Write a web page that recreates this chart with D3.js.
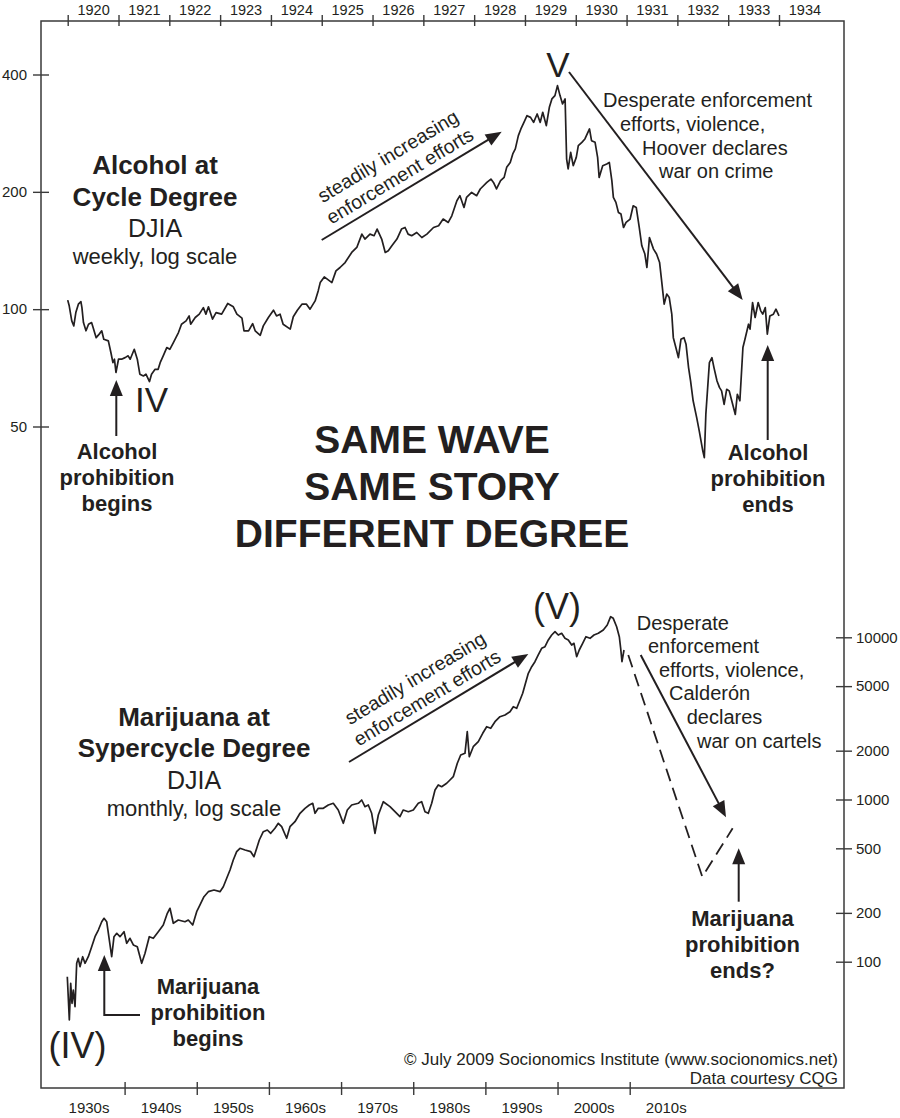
<!DOCTYPE html>
<html><head><meta charset="utf-8">
<script src="https://cdn.jsdelivr.net/npm/d3@7"></script>
<style>
html,body{margin:0;padding:0;background:#fff;}
svg{display:block;font-family:"Liberation Sans",Arial,Helvetica,sans-serif;}
</style></head><body>
<svg id="chart" width="900" height="1118"></svg>
<script>
// ---------- DATA ----------
// Top panel: DJIA weekly 1920-1933 (decimal year, index value)
const alcoholWeekly = [
[1920.00,105.5],[1920.03,102],[1920.08,93.3],[1920.12,90.6],[1920.16,98],[1920.21,103],[1920.26,104.6],[1920.28,100.9],
[1920.31,92.4],[1920.36,88],[1920.41,91.5],[1920.47,92.4],[1920.50,89.7],[1920.56,84.5],[1920.62,86.3],[1920.67,88],
[1920.71,83.7],[1920.80,82.9],[1920.85,77.4],[1920.89,72.9],[1920.92,74.4],[1920.95,68.8],[1921.00,74.4],[1921.06,74.4],
[1921.13,75.1],[1921.19,75.9],[1921.23,74.4],[1921.31,78.9],[1921.37,74.4],[1921.42,68.1],[1921.49,67.4],[1921.54,68.1],
[1921.61,65.2],[1921.65,68.1],[1921.72,70.1],[1921.78,70.1],[1921.82,72.9],[1921.88,75.9],[1921.95,79.7],[1922.01,78.9],
[1922.08,82.1],[1922.18,87.1],[1922.24,91.5],[1922.33,93.3],[1922.39,96.1],[1922.42,91.5],[1922.51,95.2],[1922.59,97.1],
[1922.67,100.9],[1922.72,97.1],[1922.77,101.4],[1922.85,94.3],[1922.92,98],[1923.03,97.1],[1923.15,103.4],[1923.26,101.4],
[1923.33,97.1],[1923.43,94.8],[1923.47,88],[1923.56,88],[1923.64,91.8],[1923.69,88],[1923.79,85.7],[1923.85,90.6],
[1923.95,95.2],[1924.05,99.4],[1924.11,96.1],[1924.18,97.1],[1924.24,91.5],[1924.38,88.9],[1924.44,95.6],[1924.52,99.4],
[1924.61,103],[1924.70,103],[1924.77,100],[1924.87,105],[1924.93,111.4],[1924.97,117],[1925.05,121],[1925.20,117],
[1925.28,125.4],[1925.36,127.9],[1925.46,131.7],[1925.59,139.8],[1925.69,144],[1925.79,155.8],[1925.85,151.3],[1925.95,155.8],
[1926.03,154.3],[1926.09,160.5],[1926.18,151.3],[1926.25,139.8],[1926.31,141.2],[1926.38,145.4],[1926.48,151.3],[1926.57,160.5],
[1926.64,162],[1926.70,155.8],[1926.77,154.3],[1926.87,157.3],[1926.97,152.7],[1927.07,155.8],[1927.20,162],[1927.30,163.7],
[1927.39,170.3],[1927.49,166.9],[1927.56,173.6],[1927.66,189.7],[1927.72,195.5],[1927.80,182.4],[1927.85,193.5],[1927.95,199.3],
[1928.05,195.5],[1928.12,203.4],[1928.25,211.4],[1928.33,215.7],[1928.38,211.4],[1928.44,203.4],[1928.52,213.6],[1928.59,217.8],
[1928.64,231.1],[1928.71,238],[1928.76,250.1],[1928.81,257.7],[1928.87,278.7],[1928.92,290],[1928.98,301.5],[1929.04,313.7],
[1929.11,310.5],[1929.17,301.5],[1929.24,316.8],[1929.30,301.5],[1929.35,319.9],[1929.42,295.7],[1929.48,329.5],[1929.53,346.3],
[1929.59,353.1],[1929.64,374.6],[1929.69,353.1],[1929.74,336.1],[1929.79,346.3],[1929.82,242.8],[1929.85,228.9],[1929.90,252.5],
[1929.95,233.4],[1930.01,245.2],[1930.05,262.7],[1930.12,267.9],[1930.18,273.3],[1930.27,290],[1930.31,270.6],[1930.38,267.9],
[1930.43,245.2],[1930.46,217.8],[1930.53,233.4],[1930.61,235.7],[1930.66,238],[1930.71,213.6],[1930.74,193.5],[1930.79,187.9],
[1930.84,177.1],[1930.89,175.4],[1930.94,162],[1930.99,166.9],[1931.07,170.3],[1931.13,184.2],[1931.19,182.4],[1931.25,162],
[1931.30,145.4],[1931.36,138.5],[1931.40,127.9],[1931.45,152.7],[1931.53,142.6],[1931.59,138.5],[1931.65,131.7],[1931.69,118.2],
[1931.74,103],[1931.79,109.3],[1931.84,107.1],[1931.89,97.1],[1931.92,84.5],[1931.97,79.7],[1932.02,75.1],[1932.07,83.7],
[1932.13,84.5],[1932.17,81.3],[1932.22,70.8],[1932.26,65.4],[1932.31,58.2],[1932.38,52.7],[1932.43,48.7],[1932.50,43.3],
[1932.53,41.6],[1932.56,53.7],[1932.63,72.9],[1932.68,75.1],[1932.72,70.8],[1932.78,65.4],[1932.83,62.9],[1932.87,61.7],
[1932.92,57],[1932.97,62.3],[1933.02,61.7],[1933.07,58.2],[1933.14,53.7],[1933.18,60.5],[1933.23,58.2],[1933.29,79.7],
[1933.33,83.7],[1933.40,91.5],[1933.43,88.9],[1933.48,104],[1933.53,95.2],[1933.59,104],[1933.64,99],[1933.68,97.1],
[1933.73,100.9],[1933.77,86.3],[1933.82,96.1],[1933.89,97.1],[1933.94,100],[1934.00,96.1]
];
// Bottom panel: DJIA monthly 1932-2009 (decimal year, index value)
const marijuanaMonthly = [
[1932.06,80.8],[1932.34,43.7],[1932.53,73.6],[1932.71,55.4],[1932.89,66.9],[1933.13,52.8],[1933.36,97.8],[1933.58,104.9],
[1933.82,93.2],[1934.19,107.3],[1934.51,97.8],[1934.97,107.3],[1935.44,123.7],[1935.90,142.6],[1936.36,156.8],[1936.83,176.4],
[1937.15,185.2],[1937.52,176.4],[1937.88,136.1],[1938.21,107.3],[1938.53,142.6],[1938.91,149.7],[1939.36,142.6],[1939.92,153.1],
[1940.29,129.9],[1940.75,139.4],[1941.21,126.8],[1941.76,123.7],[1942.37,97.8],[1942.83,112.7],[1943.42,142.6],[1943.98,139.4],
[1944.67,153.1],[1945.36,168.4],[1945.92,198.8],[1946.29,213.5],[1946.75,172.5],[1947.44,180.7],[1948.37,176.4],[1948.83,180.7],
[1949.44,168.4],[1949.99,203.4],[1950.45,223.7],[1951.00,251.6],[1951.60,270.2],[1952.39,276.7],[1953.22,270.2],[1953.68,290],
[1954.15,326.7],[1954.61,367.6],[1955.06,423.6],[1955.53,476.8],[1955.99,500.3],[1956.69,488.4],[1957.48,476.8],[1957.93,444.1],
[1958.31,500.3],[1958.67,562.7],[1959.22,633.3],[1959.78,648.6],[1960.25,618.9],[1960.84,664.4],[1961.30,713.5],[1961.77,679.8],
[1962.46,576.7],[1962.92,679.8],[1963.61,729.8],[1964.31,822.3],[1965.00,882.5],[1965.60,925.1],[1966.07,947.7],[1966.39,822.3],
[1966.84,882.5],[1967.54,882.5],[1968.23,925.1],[1968.92,947.7],[1969.61,861.6],[1970.31,713.5],[1970.86,861.6],[1971.47,925.1],
[1972.39,947.7],[1972.86,992.9],[1973.31,903],[1973.77,925.1],[1974.24,822.3],[1974.70,618.9],[1975.16,802.6],[1975.85,969.2],
[1976.78,903],[1977.47,841],[1978.16,783.4],[1978.62,861.6],[1979.32,841],[1980.01,861.6],[1980.70,947.7],[1981.17,969.2],
[1981.63,841],[1982.09,822.3],[1982.56,947.7],[1983.02,1144],[1983.47,1229],[1983.94,1199],[1984.64,1259],[1985.09,1319],
[1985.55,1382],[1986.11,1672],[1986.58,1881],[1987.17,1927],[1987.49,2618],[1987.77,1836],[1988.32,2116],[1989.02,2272],
[1989.63,2559],[1990.18,2811],[1990.74,2748],[1991.33,3018],[1992.02,3240],[1992.72,3319],[1993.41,3478],[1993.87,3734],
[1994.34,3650],[1994.80,4106],[1995.17,4516],[1995.49,5081],[1995.95,5999],[1996.42,6588],[1996.87,7072],[1997.33,7780],
[1997.80,8555],[1998.26,8750],[1998.72,9625],[1999.19,10330],[1999.65,10830],[2000.10,10330],[2000.57,10580],[2001.03,9860],
[2001.49,9625],[2001.96,8960],[2002.28,9183],[2002.65,7593],[2003.01,8350],[2003.48,9183],[2003.94,10090],[2004.50,9860],
[2005.05,10330],[2005.65,10580],[2006.34,11090],[2006.89,11910],[2007.36,13400],[2007.72,13090],[2008.19,11620],[2008.56,10090],
[2008.75,8555],[2008.93,7072],[2009.21,8350]
];
// Dashed projection in bottom panel
const projection = [[2009.80,7780],[2020.06,334],[2024.27,664]];

// Axis tick values / labels
const topYearTicks = [1920,1921,1922,1923,1924,1925,1926,1927,1928,1929,1930,1931,1932,1933,1934];
const topYearLabels = ["1920","1921","1922","1923","1924","1925","1926","1927","1928","1929","1930","1931","1932","1933","1934"];
const decadeTicks = [1940,1950,1960,1970,1980,1990,2000,2010];
const decadeLabels = ["1930s","1940s","1950s","1960s","1970s","1980s","1990s","2000s","2010s"];
const decadeStarts = [1930,1940,1950,1960,1970,1980,1990,2000,2010];
const leftTicks = [50,100,200,400];
const rightTicks = [100,200,500,1000,2000,5000,10000];

// ---------- LAYOUT ----------
const INK = "#231f20";
const svg = d3.select("#chart");
const frame = {l:41, r:844, t:21, b:1088};

const xTop = d3.scaleLinear().domain([1920,1934]).range([67.7,779]);
const yTop = d3.scaleLog().domain([50,400]).range([426.5,74.5]);
const xBot = d3.scaleLinear().domain([1940,2010]).range([124.6,629.7]);
const yBot = d3.scaleLog().domain([100,10000]).range([961.7,637.3]);

// frame
svg.append("rect").attr("x",frame.l).attr("y",frame.t)
  .attr("width",frame.r-frame.l).attr("height",frame.b-frame.t)
  .attr("fill","none").attr("stroke","#3a3a3a").attr("stroke-width",1.5);

function styleAxis(g, size){
  g.select(".domain").remove();
  g.selectAll("line").attr("stroke","#3a3a3a").attr("stroke-width",1.4);
  g.selectAll("text").attr("fill",INK).attr("font-size",size||15)
    .attr("font-family",'"Liberation Sans",Arial,sans-serif');
}

// top axis ticks (crossing line)
const gTopTicks = svg.append("g").attr("transform",`translate(0,${frame.t})`)
  .call(d3.axisTop(xTop).tickValues(topYearTicks).tickSize(6).tickFormat(""));
gTopTicks.selectAll(".tick line").attr("y1",5).attr("y2",-6);
styleAxis(gTopTicks);
// top axis labels centered in each year
const gTopLab = svg.append("g").attr("transform",`translate(0,${frame.t})`)
  .call(d3.axisTop(xTop).tickValues(topYearTicks.map(v=>v+0.5)).tickSize(0).tickPadding(6.5)
    .tickFormat((d,i)=>topYearLabels[i]));
styleAxis(gTopLab, 14.5);

// bottom axis ticks
const gBotTicks = svg.append("g").attr("transform",`translate(0,${frame.b})`)
  .call(d3.axisBottom(xBot).tickValues(decadeTicks).tickSize(7).tickFormat(""));
gBotTicks.selectAll(".tick line").attr("y1",-6).attr("y2",7);
styleAxis(gBotTicks);
const gBotLab = svg.append("g").attr("transform",`translate(0,${frame.b})`)
  .call(d3.axisBottom(xBot).tickValues(decadeStarts.map(v=>v+5)).tickSize(0).tickPadding(14)
    .tickFormat((d,i)=>decadeLabels[i]));
styleAxis(gBotLab);

// left axis (top panel)
const gLeft = svg.append("g").attr("transform",`translate(${frame.l},0)`)
  .call(d3.axisLeft(yTop).tickValues(leftTicks).tickSize(8).tickPadding(6).tickFormat(d3.format("d")));
gLeft.selectAll(".tick line").attr("x1",8).attr("x2",-8);
styleAxis(gLeft);

// right axis (bottom panel)
const gRight = svg.append("g").attr("transform",`translate(${frame.r},0)`)
  .call(d3.axisRight(yBot).tickValues(rightTicks).tickSize(8).tickPadding(4).tickFormat(d3.format("d")));
gRight.selectAll(".tick line").attr("x1",-8).attr("x2",8);
styleAxis(gRight);

// data lines
const lineTop = d3.line().x(d=>xTop(d[0])).y(d=>yTop(d[1]));
const lineBot = d3.line().x(d=>xBot(d[0])).y(d=>yBot(d[1]));
svg.append("path").datum(alcoholWeekly).attr("d",lineTop)
  .attr("fill","none").attr("stroke",INK).attr("stroke-width",1.7).attr("stroke-linejoin","round");
svg.append("path").datum(marijuanaMonthly).attr("d",lineBot)
  .attr("fill","none").attr("stroke",INK).attr("stroke-width",1.7).attr("stroke-linejoin","round");
svg.append("path").datum(projection).attr("d",lineBot)
  .attr("fill","none").attr("stroke",INK).attr("stroke-width",1.8).attr("stroke-dasharray","13,7");

// ---------- ANNOTATIONS ----------
function txt(x,y,s,size,opts={}){
  const t = svg.append("text").attr("x",x).attr("y",y).text(s)
    .attr("font-size",size).attr("fill",INK)
    .attr("text-anchor",opts.anchor||"start")
    .attr("font-weight",opts.bold?"bold":"normal");
  return t;
}
function arrow(x1,y1,x2,y2){
  const L=16, W=6.5;
  const dx=x2-x1, dy=y2-y1, len=Math.hypot(dx,dy), ux=dx/len, uy=dy/len;
  const bx=x2-ux*L, by=y2-uy*L;
  svg.append("line").attr("x1",x1).attr("y1",y1).attr("x2",bx+ux*2).attr("y2",by+uy*2)
    .attr("stroke",INK).attr("stroke-width",2);
  svg.append("path").attr("d",`M${x2},${y2}L${bx-uy*W},${by+ux*W}L${bx+uy*W},${by-ux*W}Z`).attr("fill",INK);
}

// top panel titles
txt(155,174,"Alcohol at",26,{anchor:"middle",bold:true});
txt(155,206,"Cycle Degree",26,{anchor:"middle",bold:true});
txt(155,237,"DJIA",25,{anchor:"middle"});
txt(155,264,"weekly, log scale",22,{anchor:"middle"});

txt(558,77,"V",35,{anchor:"middle"});
txt(135,412,"IV",35);

arrow(116.3,436,116.3,380);
txt(117,459,"Alcohol",22,{anchor:"middle",bold:true});
txt(117,485,"prohibition",22,{anchor:"middle",bold:true});
txt(117,511,"begins",22,{anchor:"middle",bold:true});

arrow(767.7,440,767.7,345);
txt(768,460,"Alcohol",22,{anchor:"middle",bold:true});
txt(768,486,"prohibition",22,{anchor:"middle",bold:true});
txt(768,512,"ends",22,{anchor:"middle",bold:true});

// rotated "steadily increasing" arrows
function rotatedNote(x0,y0,x1,y1){
  arrow(x0,y0,x1,y1);
  const ang = Math.atan2(y1-y0,x1-x0)*180/Math.PI;
  const g = svg.append("g").attr("transform",`translate(${x0},${y0}) rotate(${ang})`);
  g.append("text").attr("x",100).attr("y",-31).attr("text-anchor","middle").attr("font-size",19.5).attr("fill",INK).text("steadily increasing");
  g.append("text").attr("x",100).attr("y",-8).attr("text-anchor","middle").attr("font-size",19.5).attr("fill",INK).text("enforcement efforts");
}
rotatedNote(321.7,240,501.7,131.7);
rotatedNote(349,762,528.3,654);

arrow(569,72,742.7,300);
txt(603,107,"Desperate enforcement",20);
txt(620,130.5,"efforts, violence,",20);
txt(642,154.5,"Hoover declares",20);
txt(659,178,"war on crime",20);

// center headline
txt(432,453,"SAME WAVE",39,{anchor:"middle",bold:true});
txt(432,500,"SAME STORY",39,{anchor:"middle",bold:true});
txt(432,547,"DIFFERENT DEGREE",39,{anchor:"middle",bold:true});

// bottom panel titles
txt(194,726,"Marijuana at",26,{anchor:"middle",bold:true});
txt(194,757,"Sypercycle Degree",26,{anchor:"middle",bold:true});
txt(194,789,"DJIA",25,{anchor:"middle"});
txt(194,816,"monthly, log scale",22,{anchor:"middle"});

txt(557,619,"(V)",36,{anchor:"middle"});
txt(77.5,1058,"(IV)",36,{anchor:"middle"});

// elbow arrow: Marijuana prohibition begins
svg.append("path").attr("d","M140,1015L104.3,1015L104.3,968").attr("fill","none").attr("stroke",INK).attr("stroke-width",2);
svg.append("path").attr("d","M104.3,955L97.8,971L110.8,971Z").attr("fill",INK);
txt(208,994,"Marijuana",22,{anchor:"middle",bold:true});
txt(208,1020,"prohibition",22,{anchor:"middle",bold:true});
txt(208,1046,"begins",22,{anchor:"middle",bold:true});

arrow(640.7,655,726,817.3);
txt(636.7,630,"Desperate",20);
txt(648,653,"enforcement",20);
txt(659,677,"efforts, violence,",20);
txt(669,700,"Calderón",20);
txt(686.7,724,"declares",20);
txt(697,748,"war on cartels",20);

arrow(738.7,901.7,738.7,848.3);
txt(742.5,926,"Marijuana",22,{anchor:"middle",bold:true});
txt(742.5,952,"prohibition",22,{anchor:"middle",bold:true});
txt(742.5,978,"ends?",22,{anchor:"middle",bold:true});

txt(838,1065,"© July 2009 Socionomics Institute (www.socionomics.net)",17,{anchor:"end"});
txt(838,1084,"Data courtesy CQG",17,{anchor:"end"});
</script>
</body></html>
